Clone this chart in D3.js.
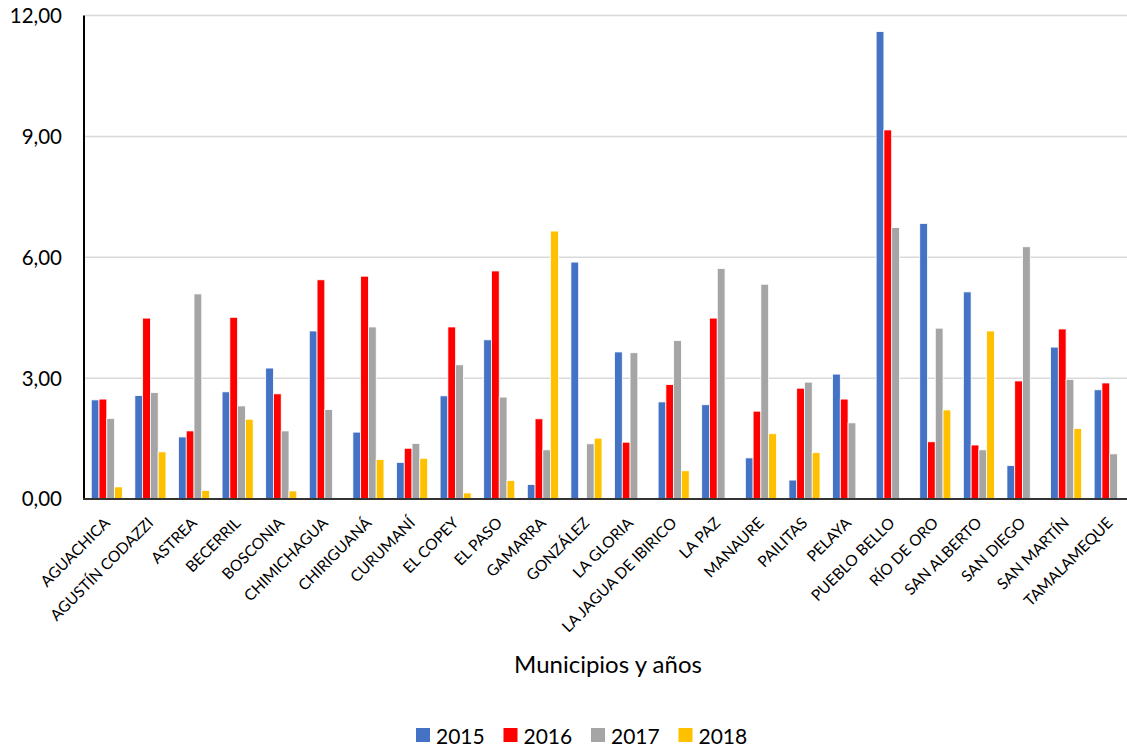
<!DOCTYPE html>
<html>
<head>
<meta charset="utf-8">
<script src="https://cdn.jsdelivr.net/npm/d3@7"></script>
<style>
    body { margin: 0; background: #fff; }
    text { font-family: Lato, "Open Sans", sans-serif; fill: #000; }
</style>
</head>
<body>
<div id="chart"></div>
<script>
// municipios
var municipios = ["AGUACHICA", "AGUSTÍN CODAZZI", "ASTREA", "BECERRIL", "BOSCONIA", "CHIMICHAGUA",
    "CHIRIGUANÁ", "CURUMANÍ", "EL COPEY", "EL PASO", "GAMARRA", "GONZÁLEZ", "LA GLORIA",
    "LA JAGUA DE IBIRICO", "LA PAZ", "MANAURE", "PAILITAS", "PELAYA", "PUEBLO BELLO",
    "RÍO DE ORO", "SAN ALBERTO", "SAN DIEGO", "SAN MARTÍN", "TAMALAMEQUE"]
var anios = ["2015", "2016", "2017", "2018"]
// valores por año (0 = sin barra)
var v2015 = [2.46, 2.57, 1.54, 2.66, 3.25, 4.17, 1.66, 0.91, 2.56, 3.95, 0.36, 5.88, 3.65,
    2.41, 2.34, 1.02, 0.47, 3.10, 11.60, 6.84, 5.14, 0.83, 3.77, 2.71]
var v2016 = [2.48, 4.49, 1.69, 4.51, 2.61, 5.44, 5.53, 1.26, 4.27, 5.66, 1.99, 0, 1.41,
    2.84, 4.49, 2.18, 2.75, 2.48, 9.16, 1.42, 1.34, 2.93, 4.22, 2.88]
var v2017 = [2.00, 2.64, 5.09, 2.31, 1.69, 2.22, 4.27, 1.38, 3.33, 2.53, 1.22, 1.37, 3.63,
    3.93, 5.72, 5.33, 2.90, 1.89, 6.74, 4.24, 1.22, 6.26, 2.97, 1.12]
var v2018 = [0.30, 1.17, 0.21, 1.98, 0.20, 0, 0.98, 1.01, 0.15, 0.46, 6.65, 1.51, 0,
    0.70, 0, 1.62, 1.15, 0, 0, 2.21, 4.17, 0, 1.75, 0]
var yTicks = [0, 3, 6, 9, 12]
var colores = ["#4472C4", "#FF0000", "#A5A5A5", "#FFC000"]

var series = [v2015, v2016, v2017, v2018]
var W = 1127, H = 749
var pLeft = 85, pRight = 1131.5, pTop = 15.5, pBase = 499

var svg = d3.select("#chart").append("svg")
    .attr("width", W).attr("height", H)

var y = d3.scaleLinear().domain([0, 12]).range([pBase, pTop])
var x0 = d3.scaleBand().domain(municipios).range([pLeft, pRight])
    .paddingInner(0.287).paddingOuter(0.1435)
var x1 = d3.scaleBand().domain(anios).range([0, x0.bandwidth()])

// grid
svg.append("g").selectAll("line")
    .data(yTicks.filter(d => d > 0))
    .enter().append("line")
    .attr("x1", pLeft).attr("x2", W)
    .attr("y1", d => y(d)).attr("y2", d => y(d))
    .attr("stroke", "#d9d9d9").attr("stroke-width", 1.5)

// barras
var grupos = svg.append("g").selectAll("g")
    .data(municipios)
    .enter().append("g")
    .attr("transform", d => "translate(" + x0(d) + ",0)")
grupos.selectAll("rect")
    .data((d, i) => anios.map((a, k) => ({ anio: a, k: k, v: series[k][i] })))
    .enter().append("rect")
    .filter(d => d.v > 0)
    .attr("x", d => x1(d.anio))
    .attr("width", x1.bandwidth())
    .attr("y", d => y(d.v))
    .attr("height", d => pBase - y(d.v))
    .attr("fill", d => colores[d.k])
    .attr("stroke", "#fff").attr("stroke-width", 0.8)

// ejes
svg.append("line").attr("x1", pLeft - 1).attr("x2", pLeft - 1)
    .attr("y1", pTop).attr("y2", pBase + 1)
    .attr("stroke", "#000").attr("stroke-width", 2)
svg.append("line").attr("x1", pLeft - 2).attr("x2", W)
    .attr("y1", pBase).attr("y2", pBase)
    .attr("stroke", "#333").attr("stroke-width", 2)

var fmt = d => d3.format(".2f")(d).replace(".", ",")
svg.append("g").selectAll("text")
    .data(yTicks)
    .enter().append("text")
    .attr("x", 62).attr("y", d => y(d))
    .attr("dy", "0.36em")
    .attr("text-anchor", "end")
    .style("font-size", "20.5px")
    .text(fmt)

// etiquetas x
svg.append("g").selectAll("text")
    .data(municipios)
    .enter().append("text")
    .attr("transform", d => "translate(" + (x0(d) + x0.bandwidth() / 2 + 4) + "," + (pBase + 25) + ") rotate(-45)")
    .attr("text-anchor", "end")
    .style("font-size", "15.5px")
    .text(d => d)

svg.append("text")
    .attr("x", 608).attr("y", 673)
    .attr("text-anchor", "middle")
    .style("font-size", "24px")
    .text("Municipios y años")

// leyenda
var ley = svg.append("g").selectAll("g")
    .data(anios)
    .enter().append("g")
    .attr("transform", (d, i) => "translate(" + (416 + i * 87.5) + ",728)")
ley.append("rect").attr("width", 14).attr("height", 14)
    .attr("fill", (d, i) => colores[i])
ley.append("text").attr("x", 20).attr("y", 15.5)
    .style("font-size", "21px")
    .text(d => d)
</script>
</body>
</html>
